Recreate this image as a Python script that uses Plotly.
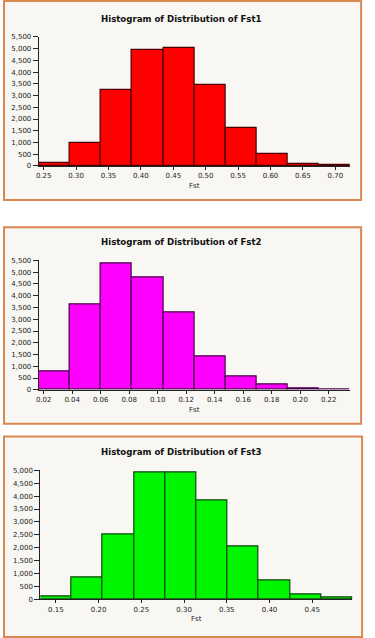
import plotly.graph_objects as go

W, H = 375, 638

# ---- data ----
fst1_counts = [150, 980, 3230, 4950, 5040, 3450, 1615, 495, 100, 45]
fst1_bin_start, fst1_bin_width = 0.2423, 0.04807
fst1_ticks = [0.25, 0.30, 0.35, 0.40, 0.45, 0.50, 0.55, 0.60, 0.65, 0.70]

fst2_counts = [760, 3630, 5390, 4760, 3290, 1410, 570, 210, 50, 20]
fst2_bin_start, fst2_bin_width = 0.0165, 0.02186
fst2_ticks = [0.02, 0.04, 0.06, 0.08, 0.10, 0.12, 0.14, 0.16, 0.18, 0.20, 0.22]

fst3_counts = [90, 830, 2510, 4910, 4940, 3850, 2030, 725, 195, 60]
fst3_bin_start, fst3_bin_width = 0.1319, 0.03652
fst3_ticks = [0.15, 0.20, 0.25, 0.30, 0.35, 0.40, 0.45]

titles = ["Histogram of Distribution of Fst1",
          "Histogram of Distribution of Fst2",
          "Histogram of Distribution of Fst3"]
y_ticks_55 = list(range(0, 5501, 500))
y_ticks_50 = list(range(0, 5001, 500))


def py(px):
    return 1 - px / H


def pxx(px):
    return px / W


panels = [
    dict(counts=fst1_counts, start=fst1_bin_start, width=fst1_bin_width, ticks=fst1_ticks,
         fill="#FF0000", line="#4a0000", ymax=5500, yticks=y_ticks_55,
         xd=(36, 350), yd=(33.3, 164), title_y=14.7, xt_y=184, box=(1, -3, 361, 198.5)),
    dict(counts=fst2_counts, start=fst2_bin_start, width=fst2_bin_width, ticks=fst2_ticks,
         fill="#FF00FF", line="#4a004a", ymax=5500, yticks=y_ticks_55,
         xd=(36, 350), yd=(259.7, 390.7), title_y=241, xt_y=410.7, box=(1, 226, 361, 425)),
    dict(counts=fst3_counts, start=fst3_bin_start, width=fst3_bin_width, ticks=fst3_ticks,
         fill="#00F500", line="#0a4a0a", ymax=5000, yticks=y_ticks_50,
         xd=(37.7, 352.3), yd=(472.3, 602.7), title_y=453.3, xt_y=623.3, box=(1, 438, 362, 641)),
]

fig = go.Figure()
shapes = []
annotations = []
tick_font = dict(family="DejaVu Sans", size=7, color="#222222")

for i, p in enumerate(panels, start=1):
    n = len(p["counts"])
    centers = [p["start"] + (k + 0.5) * p["width"] for k in range(n)]
    xa = "x" if i == 1 else f"x{i}"
    ya = "y" if i == 1 else f"y{i}"
    fig.add_trace(go.Bar(
        x=centers, y=p["counts"], width=[p["width"]] * n,
        marker=dict(color=p["fill"], line=dict(color=p["line"], width=1.2)),
        xaxis=xa, yaxis=ya, showlegend=False, hoverinfo="x+y"))
    x0 = p["start"]
    x1 = p["start"] + n * p["width"]
    xkey = "xaxis" if i == 1 else f"xaxis{i}"
    ykey = "yaxis" if i == 1 else f"yaxis{i}"
    fig.update_layout(**{
        xkey: dict(domain=[pxx(p["xd"][0]), pxx(p["xd"][1])], range=[x0, x1],
                   anchor=ya, tickvals=p["ticks"], ticktext=[f"{t:.2f}" for t in p["ticks"]],
                   showgrid=False, zeroline=False, showline=True, linecolor="#222222",
                   linewidth=1, ticks="outside", ticklen=3, tickcolor="#222222",
                   tickfont=tick_font, fixedrange=True),
        ykey: dict(domain=[py(p["yd"][1]), py(p["yd"][0])], range=[0, p["ymax"]],
                   anchor=xa, tickvals=p["yticks"], tickformat=",d",
                   showgrid=False, zeroline=False, showline=True, linecolor="#222222",
                   linewidth=1, ticks="outside", ticklen=5, tickcolor="#222222",
                   tickfont=tick_font, fixedrange=True),
    })
    bx0, by0, bx1, by1 = p["box"]
    shapes.append(dict(type="rect", xref="paper", yref="paper",
                       x0=pxx(bx0), x1=pxx(bx1), y0=py(by1), y1=py(by0),
                       fillcolor="#F8F7F3", line=dict(color="#DB8750", width=2),
                       layer="below"))
    annotations.append(dict(text=f"<b>{titles[i-1]}</b>", xref="paper", yref="paper",
                            x=pxx(180), y=py(p["title_y"]), xanchor="center", yanchor="middle",
                            showarrow=False,
                            font=dict(family="DejaVu Sans", size=8.6, color="#111111")))
    annotations.append(dict(text="Fst", xref="paper", yref="paper",
                            x=pxx((p["xd"][0] + p["xd"][1]) / 2), y=py(p["xt_y"]),
                            xanchor="center", yanchor="middle", showarrow=False,
                            font=tick_font))

fig.update_layout(width=W, height=H, margin=dict(l=0, r=0, t=0, b=0),
                  paper_bgcolor="white", plot_bgcolor="rgba(0,0,0,0)",
                  shapes=shapes, annotations=annotations, bargap=0)

fig.write_html("out.html", config={"displayModeBar": False},
               post_script="document.body.style.margin='0';document.body.style.overflow='hidden';")
